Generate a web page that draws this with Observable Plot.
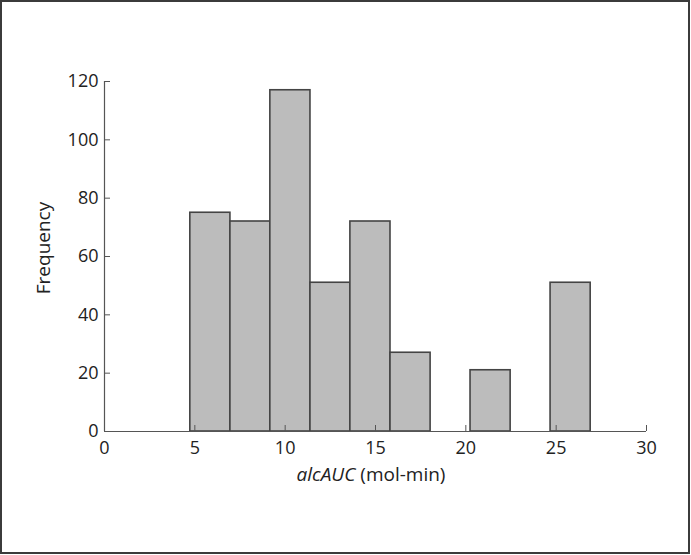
<!DOCTYPE html>
<html><head><meta charset="utf-8">
<script src="https://cdn.jsdelivr.net/npm/d3@7"></script>
<script src="https://cdn.jsdelivr.net/npm/@observablehq/plot@0.6"></script>
<style>
body{margin:0;background:#fff}
#wrap{position:relative;width:691px;height:555px}
#frame{position:absolute;left:0;top:0;width:690px;height:554px;box-sizing:border-box;border:2px solid #3b3b3b;pointer-events:none}
svg{display:block}
</style></head><body><div id="wrap"><div id="frame"></div></div>
<script>
const binStart = [4.75, 6.97, 9.18, 11.40, 13.61, 15.83, 18.05, 20.26, 22.48, 24.69];
const binEnd   = [6.97, 9.18, 11.40, 13.61, 15.83, 18.05, 20.26, 22.48, 24.69, 26.91];
const counts   = [75, 72, 117, 51, 72, 27, 0, 21, 0, 51];
const xTicks = [0, 5, 10, 15, 20, 25, 30];
const yTicks = [0, 20, 40, 60, 80, 100, 120];
const xLabelItalic = "alcAUC";
const xLabelRest = " (mol-min)";
const yLabel = "Frequency";

const bins = binStart.map((s, i) => ({x1: s, x2: binEnd[i], y: counts[i]})).filter(d => d.y > 0);

const font = "'Open Sans', sans-serif";
const plot = Plot.plot({
  width: 691, height: 555,
  marginLeft: 104, marginRight: 45, marginTop: 81, marginBottom: 124,
  style: {fontFamily: font, fontSize: "18px", color: "#222", background: "transparent"},
  x: {domain: [0, 30]},
  y: {domain: [0, 120]},
  marks: [
    Plot.rectY(bins, {x1: "x1", x2: "x2", y: "y", fill: "#bcbcbc", stroke: "#444", strokeWidth: 1.6}),
    Plot.ruleY([0], {x1: 0, x2: 30, stroke: "#555", strokeWidth: 1.2}),
    Plot.ruleX([0], {y1: 0, y2: 120, stroke: "#555", strokeWidth: 1.2}),
    Plot.axisX({ticks: xTicks, tickSize: -6, tickPadding: 16, label: null, stroke: "#555", fill: "#222"}),
    Plot.axisY({ticks: yTicks, tickSize: -6, tickPadding: 12, label: null, stroke: "#555", fill: "#222"})
  ]
});
document.getElementById("wrap").prepend(plot);

const svg = d3.select(plot);
const xs = plot.scale("x"), ys = plot.scale("y");
const xt = svg.append("text")
  .attr("x", xs.apply(15) - 4).attr("y", 481)
  .attr("text-anchor", "middle").attr("fill", "#222")
  .style("font-family", font).style("font-size", "19px");
xt.append("tspan").attr("font-style", "italic").text(xLabelItalic);
xt.append("tspan").text(xLabelRest);
svg.append("text")
  .attr("transform", `translate(50,${ys.apply(60) - 8}) rotate(-90)`)
  .attr("text-anchor", "middle").attr("fill", "#222")
  .style("font-family", font).style("font-size", "19px")
  .text(yLabel);
</script></body></html>
